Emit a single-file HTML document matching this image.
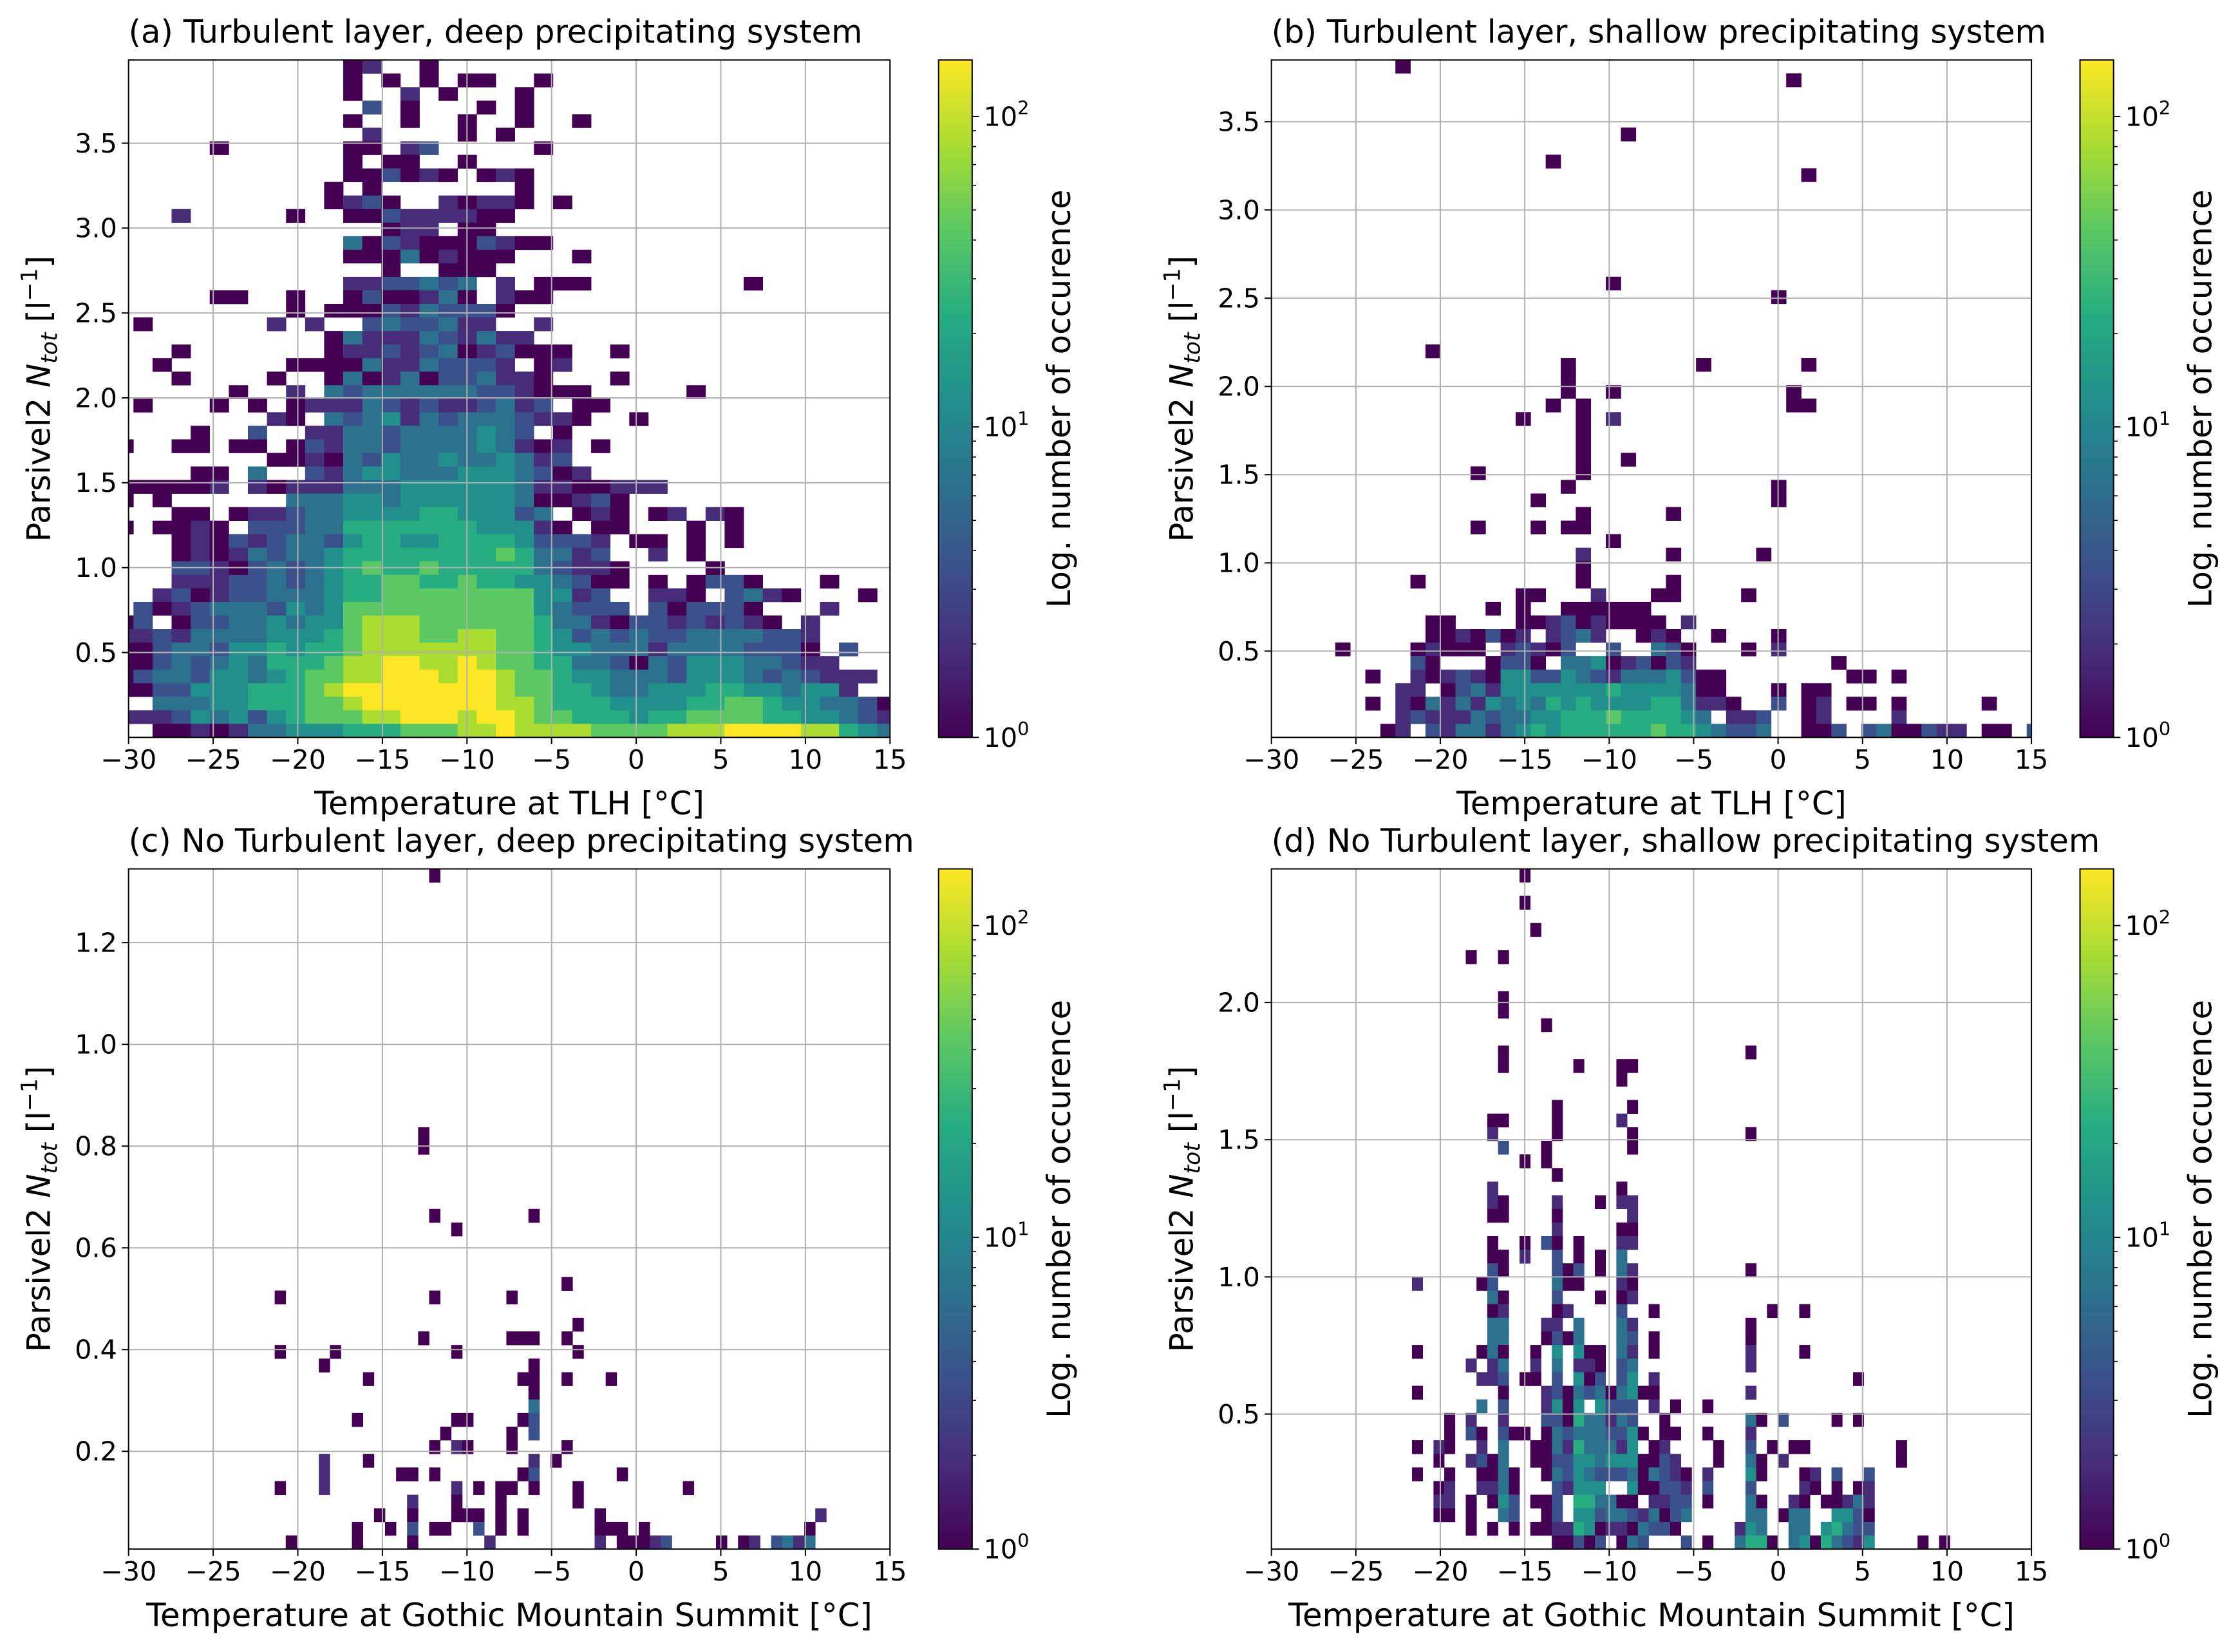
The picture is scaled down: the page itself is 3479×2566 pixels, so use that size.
<!DOCTYPE html>
<html><head><meta charset="utf-8">
<style>
html,body{margin:0;padding:0;background:#fff;}
svg{display:block;}
text{font-family:"DejaVu Sans","Liberation Sans",sans-serif;fill:#000;}
</style></head>
<body>
<svg id="fig" xmlns="http://www.w3.org/2000/svg" width="3479" height="2566" viewBox="0 0 1568 1156" preserveAspectRatio="none">
<defs>
<linearGradient id="viridis" x1="0" y1="1" x2="0" y2="0">
<stop offset="0" stop-color="#440154"/><stop offset="0.125" stop-color="#472c7a"/><stop offset="0.25" stop-color="#3b518b"/><stop offset="0.375" stop-color="#2c718e"/><stop offset="0.5" stop-color="#21908d"/><stop offset="0.625" stop-color="#27ad81"/><stop offset="0.75" stop-color="#5cc863"/><stop offset="0.875" stop-color="#aadc32"/><stop offset="1" stop-color="#fde725"/>
</linearGradient>
</defs>
</svg>
<script>
// ---- data ----
const xTicks = [-30,-25,-20,-15,-10,-5,0,5,10,15];
const aYTicks = [0.5,1.0,1.5,2.0,2.5,3.0,3.5];
const bYTicks = [0.5,1.0,1.5,2.0,2.5,3.0,3.5];
const cYTicks = [0.2,0.4,0.6,0.8,1.0,1.2];
const dYTicks = [0.5,1.0,1.5,2.0];
const cbTicks = [1,10,100];
const levelColors = ["#ffffff","#440154","#472c7a","#3b518b","#2c718e","#21908d","#27ad81","#5cc863","#aadc32","#fde725"];
// bins: [xStart, xWidth, yStart, yHeight]
const aBins = [-30.838,1.127,0,0.0798];
const bBins = [-29.78,0.890,0.011,0.0768];
const cBins = [-29.84,0.652,0.0078,0.02675];
const dBins = [-29.96,0.637,0.008,0.0496];
const aRows = [
"49|12:1 13:2 16:1","48|12:1 14:1 16:1 18-19:1 22:1","47|12:1 15:2 17:1 21:1","46|13:3 15:1 19:1 21:1",
"45|12:1 15:1 18:1 21:1 24:1","44|13:2 18:1 20:1","43|5:1 12-13:1 15:2 16:3 22:1","42|12:1 14-15:1 18:1",
"41|12-13:1 14:3 15:1 16:2 17:1 19:1 20:2 21:1","40|11:1 13:1 21:1",
"39|11:1 12:2 13:3 14:1 17:2 18:1 19-20:2 21:1 23:1","38|3:2 9:1 12-13:1 14:3 15-18:2 19-20:1",
"37|14:1 15-16:2 18-19:1","36|12:4 13:1 14:3 15:2 16-17:1 18:1 19:3 20:2 21-22:1",
"35|12-13:1 14:1 15:4 16:1 17:2 18-20:1 24:1","34|14:1 17-19:1",
"33|12-13:2 14-15:3 16:4 17:3 18:4 20:2 22-24:1 33:1","32|5-6:1 9:1 12:1 13:3 14-15:1 16:2 17:4 18:1 20:2 21-22:1",
"31|9:1 11-13:1 14:3 15:2 16:4 17:3 18-19:3 20:1","30|1:1 8:2 10:2 13:3 14:4 15:3 16:3 17:4 18-19:2 22:2",
"29|11:1 12:4 13:2 14-15:2 16:4 17:3 18:2 19:4 20-21:2",
"28|3:1 11:1 12-13:2 14:3 15:2 16:3 17:4 18:1 19:2 20:3 21-22:1 23:1 26:1",
"27|2:1 9-12:1 13:4 14-15:2 16:4 17:3 18:3 19:3 20:2 22:1 23:2",
"26|3:1 8:1 11:1 12:4 13:1 14:2 15:4 16:1 17:3 18:3 19:4 20-21:2 22:1 26:1",
"25|6:1 9:2 11:4 12:3 13-17:4 18:4 19-20:3 21:2 22-24:1 30:1",
"24|1:1 5:1 7:1 9:1 10-12:2 13:4 14:3 15:2 16:3 17:2 18:2 19:3 20:4 21:2 22:3 24-25:1",
"23|8:2 9:1 11:4 12:3 13:4 14:5 15:2 16:4 17:3 18:4 19-20:4 21:3 22:2 23:2 24:1 27:1",
"22|4:1 7:3 10-11:2 12-13:4 14:3 15-17:4 18:4 19:5 20:4 21:3 23:1",
"21|0:1 3-4:1 6-7:1 9:1 10:3 11:2 12:4 13:4 14:3 15-18:4 19:5 20:4 21:2 22:1 23:2 25:1",
"20|8-9:1 10:2 11:1 12:4 13:3 14:5 15-16:4 17:5 18:4 19:4 20:5 21:4 22:2 23:3",
"19|4-5:1 7:4 10:3 11:2 12:4 13:5 14:5 15-16:4 17:4 18:5 19-20:5 21:4 22:3 23:1 24:2",
"18|0-4:1 5:2 7:2 8:1 9-11:2 12-14:4 15-17:5 18-20:5 21:4 22-23:2 24-25:1 26-28:2",
"17|0:1 2:1 9-11:4 12-13:5 14:4 15-16:5 17-18:5 19-20:5 21:4 22-23:1 24:2 25:3 26:1",
"16|3-4:1 6:1 7-8:2 9:3 10-11:4 12-13:5 14-15:5 16-17:6 18-20:5 21:3 22:4 24:1 25:2 26:1 28:1 29:2 31:2 32:1",
"15|0:1 2-3:1 4:2 5:1 7-8:3 9:3 10-11:4 12-14:6 15-16:6 17-18:6 19-21:5 22:2 23:1 25-26:1 30:1 32:1",
"14|3:1 4:2 5:1 6:3 7:2 8:3 9-10:4 11:3 12:5 13-14:6 15-16:5 17-18:6 19-20:6 21:5 22:3 23:3 24:3 25:2 27-28:1 30:1 32:1",
"13|3:1 4:2 5:1 6:2 7:4 8:3 9:4 10:4 11:5 12-18:6 19:6 20:7 21:6 22:4 23:4 24:2 25:3 28:2 30:1",
"12|3:3 4:3 5:2 6:1 7:3 8:4 9:3 10:4 11:5 12:6 13:7 14-15:6 16:7 17-18:6 19-21:6 22:4 23:3 24-25:2 26:1 31:1",
"11|3-4:2 5:2 6:3 7:3 8:4 9:3 10:4 11:5 12-13:6 14-15:7 16-17:6 18:7 19-20:6 21:5 22:5 23:4 24:3 25-26:1 28:1 30:1 31:3 32:3 33:1 37:1",
"10|2:2 3:3 4:1 5:2 6:3 7:3 8-10:4 11:5 12-13:6 14-21:7 22-23:5 24:2 25:3 28-29:2 30:1 32:3 33:4 34:2 35:1 39:1",
"9|1:3 2:1 3:2 4:3 5-7:4 8:3 9:5 10:4 11:5 12-21:7 22:5 23:4 24-26:3 28:3 29:1 30-32:3 33:1 37:2",
"8|0:1 1:3 3:1 4-5:3 6-7:4 8:5 9:4 10-11:5 12:7 13-15:8 16-21:7 22:6 23-24:4 25:2 26:1 27-28:3 29:2 30:3 31:2 32:3 33:2 34:1 36:2",
"7|0-1:2 2:3 3:2 4-7:4 8-10:5 11:6 12:7 13-15:8 16-17:7 18-19:8 20-21:7 22:6 23:5 24:3 25:4 26:3 27:4 28-29:3 30-33:4 34-35:3 36:2",
"6|0-1:1 2:3 3-4:4 5:3 6-7:5 8:6 9:5 10-11:6 12:7 13-19:8 20-21:7 22:6 23-24:5 25-27:4 28:2 29-32:4 33-35:3 36:1 38:3",
"5|0-1:1 2:3 3:4 4:3 5:4 6:5 7:4 8-10:6 11:7 12-13:8 14-15:9 16-17:8 18:9 19:8 20-21:7 22-23:6 24-25:4 26:3 27:1 28:4 29:3 30-32:5 33-34:4 35:3 36-37:2",
"4|0:1 1:3 2-3:4 4:3 5-6:5 7:4 8:5 9:6 10-11:7 12-13:8 14-16:9 17:8 18-19:9 20:8 21-22:7 23:6 24-25:5 26-28:4 29:3 30-32:5 33:4 34:3 35:4 36:3 37-39:2",
"3|0-1:1 2-3:3 4-6:5 7-9:6 10:7 11:8 12-19:9 20:8 21-22:7 23-24:6 25:5 26-27:4 28-30:5 31-32:6 33-34:5 35:4 36-37:5 38:2",
"2|2-4:4 5-6:5 7-9:6 10-11:7 12:8 13-19:9 20-21:8 22:7 23-25:6 26-29:5 30-31:6 32-33:7 34:6 35-36:5 37-38:4 39:3 40:1",
"1|0-2:2 3:3 4:5 5:4 6:5 7:3 8:5 9:6 10-12:7 13-14:8 15-17:9 18:8 19-20:9 21:8 22-23:7 24-26:6 27:5 28-29:6 30-33:7 34-35:6 36-37:5 38:4 39:3 40:2",
"0|2-3:1 4:2 5:1 6:2 7-8:4 9-11:5 12-14:6 15-17:7 18-19:8 20:9 21-24:8 25-28:7 29-31:8 32-35:9 36-37:8 38:6 39:5 40:4"
];
const bRows = [
"49|8:1","48|34:1","44|23:1","42|18:1","41|35:1","33|22:1","32|33:1","28|10:1","27|19:1 28:1 35:1","26|19:1",
"25|19:1 22:1 34:1","24|18:1 20:1 34-35:1","23|16:1 20:1 22:2","22|20:1","21|20:1","20|20:1 23:1","19|13:1 20:1",
"18|19:1 33:1","17|17:1 33:1","16|20:1 26:1","15|13:1 17:1 19-20:1","14|22:1","13|20:2 26:1 32:1","12|20:1",
"11|9:1 20:1 26:1","10|16-17:1 21:2 25:1 26:1 31:1","9|14:1 16:1 19-24:1",
"8|10-11:1 16-17:1 18:2 19:3 20:1 21:2 22-25:1 27:2",
"7|10-11:1 12:2 13:1 14:3 15:1 16:2 18:2 19:3 20:4 21:2 24:1 25:2 26:1 29:1 33:1",
"6|4:1 9:1 10:2 11-13:1 15:2 16:3 17:2 18:1 19:3 22:3 25:4 26:3 27:1 31:1 33:2",
"5|9:3 10:1 14:1 15-16:3 17:1 19-20:4 21:5 22:1 23:2 24:3 25:1 26:3 27:2 37:1",
"4|6:1 9:2 10:1 11:2 12:3 13:2 14:1 15-16:5 17-18:3 19:5 20:4 21:3 22:2 23-25:4 26:5 27:3 28-29:1 38-39:1 41:1",
"3|8-9:2 11:1 12:3 13:4 14:2 15-18:5 19-21:5 22:6 23-26:5 27:4 28-29:1 33:1 35-36:1",
"2|6:1 8:2 9:1 10:4 11:2 12:4 13:2 14:5 15:4 16:5 17:4 18:6 19:5 20:6 21:5 22-24:5 25-26:6 27:4 28-29:2 30:1 33:3 35:1 36:2 38-39:1 41:1 47:1",
"1|8:2 9:3 10:2 11-12:2 13:4 14:3 15-16:4 17-18:5 19-21:6 22:7 23-26:6 27:5 28:4 30-31:2 32:3 35:1 36:2 41:2",
"0|7:1 8:2 10:3 11:2 12-13:4 14:2 15:4 16:5 17:6 18:5 19-21:6 22-24:6 25:7 26-27:6 28:5 29:4 30-31:3 32:4 35-36:1 37:3 39:3 40:4 41-42:1 43:3 44-45:2 47-48:1 50:3"
];
const cRows = [
"49|27:1","30|26:1","29|26:1","24|27:1 36:1","23|29:1","19|39:1","18|13:1 27:1 34:1","16|40:1",
"15|26:1 34-36:1 39:1","14|13:1 18:1 29:1 40:1","13|17:1 36:1","12|21:1 35-36:1 39:1 43:1","11|36:1","10|36:4",
"9|20:1 29-30:1 35:1 36:3","8|28:1 34:1 36:3","7|27:1 29:2 30:1 34:1 39:1","6|17:2 21:1 36:2 38:1",
"5|17:2 24-25:1 27:1 35:1 36:3 44:1","4|13:1 17:2 29:2 31:1 33-34:1 36:1 40:1 50:1","3|25:2 29:1 33:1 40:1",
"2|22:1 25:1 29-31:1 33:1 35:1 42:1 62:2","1|20:1 23:1 25:3 27-28:1 31:3 33:1 35:1 42-44:1 46:1 61:1",
"0|14:1 20:1 25:1 32:2 42:2 44-45:1 46:1 47:2 48:3 53:1 55:1 56:2 58:3 59:4 60:2 61:4"
];
const dRows = [
"49|23:1","47|23:1","45|24:1","43|18:1 21:1","40|21:1","39|21:1","38|25:1","36|21:1 44:1","35|21:1 28:1 32-33:1","34|32:1",
"32|26:1 33:1","31|20-21:1 26:1 32:2","30|20:2 26:1 33:1 44:1","29|21:3 25:1 33:1","28|23:1 25:1","27|26:1","26|20:2 32:1",
"25|20:2 21:1 26:2 30:1 32-33:2","24|20-21:1 26:1 33:2","23|26:2 32-33:1","22|20:1 23:1 25:3 26:1 28:1 32-33:2",
"21|20-21:1 23:2 26:3 28:1 30:1 32:4","20|20:3 21:1 26:3 27:1 28:3 30:1 32:4 33:2 44:1",
"19|13:2 19:1 20:3 26:4 27-28:1 32:2 33:1","18|20:4 21:1 26:3 30:1 32:1 33:2",
"17|20:1 21:2 26:1 27:2 32:3 35:1 46:1 49:1","16|20-21:4 25-26:2 28:4 32:4 33:2 44:1",
"15|20-21:4 25:1 26:3 27:1 28:4 32:4 33:3 35:1 44:1",
"14|13:1 19:1 20:4 21:1 24:1 26:5 28:5 29-30:1 32:4 33:2 35:1 44:2 49:1",
"13|18:2 20:2 21:4 24:2 26:4 28-29:2 30:1 32:3 33:4 44:2",
"12|19-20:2 21:3 23-24:1 26:3 28:5 29:1 30:3 32:3 33:5 35:2 54:1",
"11|13:1 21:1 25:2 26:3 27:1 28:4 29:3 30:4 31:1 32:4 33:5 34-35:1 44:2",
"10|19:4 21:3 25:2 26:5 27:1 28:5 30:5 31:3 32-33:3 35:2 37:1 40:1",
"9|16:1 18:2 21:2 25-26:3 27:1 28:6 29-30:4 31:2 32:4 33:3 36:1 44:4 45:1 47:3 52:1 54:1",
"8|16:1 18:3 19:1 21:3 22-23:1 25:1 26:4 27:3 28-30:4 31:3 32:3 33:5 34:1 36-37:1 40:1 44:2",
"7|13:1 15:2 16:1 19:2 21:4 24-25:1 26:4 27:2 28:6 29-30:4 31:4 32:2 33:5 35:1 36:2 41:1 44:3 46:1 48-49:1 58:1",
"6|15:1 18:2 19:3 20:1 21:4 24-25:1 26-27:3 28:5 29:5 30:4 31:5 32-33:5 34-35:1 36:3 37:2 41:1 44:4 45:1 47:2 58:1",
"5|13:1 16:1 19-20:1 21:4 22:1 25:1 26:4 27:3 28:5 29:4 30:3 31:3 32:3 33:4 34:1 35:4 36:3 37:2 38:1 40:2 44:5 45:1 49:1 50:2 52:3 55:3",
"4|15:1 16:2 19-20:2 21:4 22:1 26:3 27:2 28-30:5 33:5 34-35:1 36-37:3 38:2 40:3 44:3 49:2 50:1 52:1 54:1 55:2",
"3|15-16:2 18:1 20:1 21:5 22:3 24-25:1 26:3 28-29:6 30-31:4 32-33:1 35-36:2 37-38:3 40:1 44:4 45:1 48:2 49:1 51-52:1 53:2 54:4 55:2",
"2|15-16:1 18:1 21:4 22:3 25:1 26:3 28-29:5 30:3 31-32:4 33:3 34:2 35:4 36:1 37:3 38:4 44-45:4 47:1 48-49:4 52-53:5 54:3 55:1",
"1|18:1 20:1 22:1 24-25:1 26-27:2 28:6 29:5 30:1 31-32:2 33:1 34:4 35-36:3 37:1 43:2 44:5 45:4 48-49:4 51:5 52:6 53:4 54:3 55:3",
"0|26-27:1 28:3 29:1 30:3 32:1 33:4 34:3 38:3 40:1 43:4 44-45:6 46:1 48:4 49:5 50:1 51:6 52:4 53:3 54:2 55:5 60:1 62:1"
];

// ---- layout ----
const NS = "http://www.w3.org/2000/svg";
const svg = document.getElementById('fig');
function el(tag, attrs, parent){ const e=document.createElementNS(NS,tag); for(const k in attrs) e.setAttribute(k,attrs[k]); (parent||svg).appendChild(e); return e; }
const FS_LAB = 22.4, FS_TICK = 18.6;

const panels = [
 {id:'a', rows:aRows, bins:aBins, yTicks:aYTicks, yDom:[0,3.99], box:[90,623,42,516], cb:657,
  title:'(a) Turbulent layer, deep precipitating system', xlabel:'Temperature at TLH [°C]'},
 {id:'b', rows:bRows, bins:bBins, yTicks:bYTicks, yDom:[0.011,3.85], box:[890,1422,42,516], cb:1456,
  title:'(b) Turbulent layer, shallow precipitating system', xlabel:'Temperature at TLH [°C]'},
 {id:'c', rows:cRows, bins:cBins, yTicks:cYTicks, yDom:[0.0078,1.345], box:[90,623,608,1084], cb:657,
  title:'(c) No Turbulent layer, deep precipitating system', xlabel:'Temperature at Gothic Mountain Summit [°C]'},
 {id:'d', rows:dRows, bins:dBins, yTicks:dYTicks, yDom:[0.008,2.487], box:[890,1422,608,1084], cb:1456,
  title:'(d) No Turbulent layer, shallow precipitating system', xlabel:'Temperature at Gothic Mountain Summit [°C]'}
];

function parseRows(rows){
  const cells=[];
  rows.forEach(s=>{
    const [r,toks]=s.split('|');
    toks.trim().split(/\s+/).forEach(t=>{
      const [rng,v]=t.split(':');
      const p=rng.split('-').map(Number);
      const a=p[0], b=p.length>1?p[1]:p[0];
      for(let c=a;c<=b;c++) cells.push([c,+r,+v]);
    });
  });
  return cells;
}

panels.forEach(P=>{
  const [L,R,T,B]=P.box;
  const xs = v => L + (v-(-30))/(45)*(R-L);
  const ys = v => B - (v-P.yDom[0])/(P.yDom[1]-P.yDom[0])*(B-T);
  const g = el('g',{});
  
  
  const clip = el('clipPath',{id:'clip-'+P.id}, g);
  el('rect',{x:L,y:T,width:R-L,height:B-T},clip);
  const hm = el('g',{'clip-path':'url(#clip-'+P.id+')'},g);
  
  
  const [x0,xw,y0,yh]=P.bins;
  parseRows(P.rows).forEach(([c,r,v])=>{
    const xa=xs(x0+c*xw), xb=xs(x0+(c+1)*xw), ya=ys(y0+(r+1)*yh), yb=ys(y0+r*yh);
    const rc=el('rect',{x:xa,y:ya,width:xb-xa+0.15,height:yb-ya+0.15,fill:levelColors[v]},hm);
    
    
  });
  const grid = el('g',{stroke:'#b0b0b0','stroke-width':0.9},g);
  
  
  xTicks.forEach(t=>{ el('line',{x1:xs(t),x2:xs(t),y1:T,y2:B},grid); });
  P.yTicks.forEach(t=>{ el('line',{x1:L,x2:R,y1:ys(t),y2:ys(t)},grid); });
  const fr=el('rect',{x:L,y:T,width:R-L,height:B-T,fill:'none',stroke:'#000','stroke-width':0.9},g);
  
  
  xTicks.forEach(t=>{
    el('line',{x1:xs(t),x2:xs(t),y1:B,y2:B+4.8,stroke:'#000','stroke-width':0.9},g);
    const tx=el('text',{x:xs(t),y:B+22,'font-size':FS_TICK,'text-anchor':'middle'},g);
    tx.textContent=(t<0?'\u2212'+(-t):''+t);
    
    
  });
  P.yTicks.forEach(t=>{
    el('line',{x1:L-4.8,x2:L,y1:ys(t),y2:ys(t),stroke:'#000','stroke-width':0.9},g);
    const tx=el('text',{x:L-8,y:ys(t)+6.5,'font-size':FS_TICK,'text-anchor':'end'},g);
    tx.textContent=t.toFixed(1);
    
    
  });
  const ti=el('text',{x:L,y:T-12,'font-size':FS_LAB},g);
  ti.textContent=P.title;
  
  
  const xl=el('text',{x:(L+R)/2,y:B+54,'font-size':FS_LAB,'text-anchor':'middle'},g);
  xl.textContent=P.xlabel;
  
  
  const cy=(T+B)/2, cx=L-55;
  const yl=el('text',{x:cx,y:cy,'font-size':FS_LAB,'text-anchor':'middle',transform:'rotate(-90 '+cx+' '+cy+')'},g);
  
  
  yl.innerHTML='Parsivel2 <tspan font-style="italic">N</tspan><tspan font-style="italic" font-size="15.6" dy="5">tot</tspan><tspan dy="-5"> [l</tspan><tspan font-size="15.6" dy="-9">\u22121</tspan><tspan dy="9">]</tspan>';
  const cbL=P.cb, cbW=23.5;
  const cbs = v => B - Math.log10(v)/Math.log10(152)*(B-T);
  const cbr=el('rect',{x:cbL,y:T,width:cbW,height:B-T,fill:'url(#viridis)',stroke:'#000','stroke-width':0.9},g);
  
  
  [2,3,4,5,6,7,8,9,20,30,40,50,60,70,80,90].forEach(m=>{
    el('line',{x1:cbL+cbW,x2:cbL+cbW+2.8,y1:cbs(m),y2:cbs(m),stroke:'#000','stroke-width':0.7},g);
  });
  cbTicks.forEach((t,i)=>{
    el('line',{x1:cbL+cbW,x2:cbL+cbW+4.8,y1:cbs(t),y2:cbs(t),stroke:'#000','stroke-width':0.9},g);
    const tx=el('text',{x:cbL+cbW+8,y:cbs(t)+6.5,'font-size':FS_TICK},g);
    tx.innerHTML='10<tspan font-size="13" dy="-8">'+i+'</tspan>';
    
    
  });
  const lx=cbL+92, ly=cy;
  const cl=el('text',{x:lx,y:ly,'font-size':FS_LAB,'text-anchor':'middle',transform:'rotate(-90 '+lx+' '+ly+')'},g);
  cl.textContent='Log. number of occurence';
  
  
});
</script>
</body></html>
